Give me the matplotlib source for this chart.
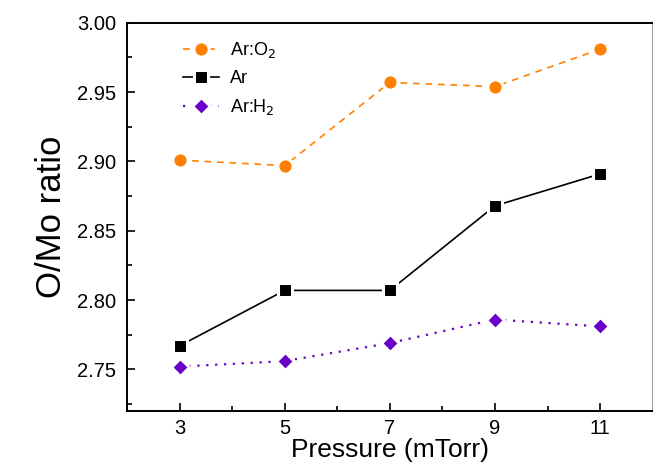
import matplotlib.pyplot as plt
from matplotlib.ticker import MultipleLocator

plt.rcParams['font.family'] = ['Liberation Sans', 'DejaVu Sans']

pressure = [3, 5, 7, 9, 11]
ar_o2 = [2.901, 2.897, 2.957, 2.954, 2.981]
ar = [2.767, 2.807, 2.807, 2.868, 2.891]
ar_h2 = [2.752, 2.756, 2.769, 2.786, 2.781]

orange = '#FF8000'
purple = '#6A00C8'

fig = plt.figure(figsize=(6.53, 4.66), dpi=100)
ax = fig.add_axes([0.1945, 0.118, 0.805, 0.833])

ax.plot(pressure, ar_o2, color=orange, ls=(0, (4, 3.5)), lw=1.2, marker='o',
        ms=11, mfc=orange, mec='white', mew=2.2, label='Ar:O$_2$')
ax.plot(pressure, ar, color='black', ls='-', lw=1.2, marker='s',
        ms=10, mfc='black', mec='white', mew=2.2, label='Ar')
ax.plot(pressure, ar_h2, color=purple, ls=(0, (1, 3)), lw=1.6, marker='D',
        ms=9.5, mfc=purple, mec='white', mew=2.2, label='Ar:H$_2$')

ax.set_xlim(2, 12)
ax.set_ylim(2.72, 3.00)
ax.set_xticks(pressure)
ax.set_yticks([2.75, 2.80, 2.85, 2.90, 2.95, 3.00])
ax.yaxis.set_major_formatter(plt.FormatStrFormatter('%.2f'))
ax.xaxis.set_minor_locator(MultipleLocator(1))
ax.yaxis.set_minor_locator(MultipleLocator(0.025))
ax.tick_params(which='both', direction='in', labelsize=14.5, width=1.2)
ax.tick_params(which='major', length=6, pad=8)
ax.tick_params(axis='x', which='major', pad=6)
ax.tick_params(which='minor', length=3.5)
for s in ax.spines.values():
    s.set_linewidth(1.4)
ax.spines['right'].set_color('#999999')

ax.set_xlabel('Pressure (mTorr)', fontsize=19, labelpad=0)
ax.set_ylabel('O/Mo ratio', fontsize=25, labelpad=6)

ax.legend(loc='upper left', frameon=False, fontsize=13, handlelength=2.0,
          labelspacing=0.55, bbox_to_anchor=(0.075, 0.997), handletextpad=0.6)

fig.savefig('out.png', dpi=100)
